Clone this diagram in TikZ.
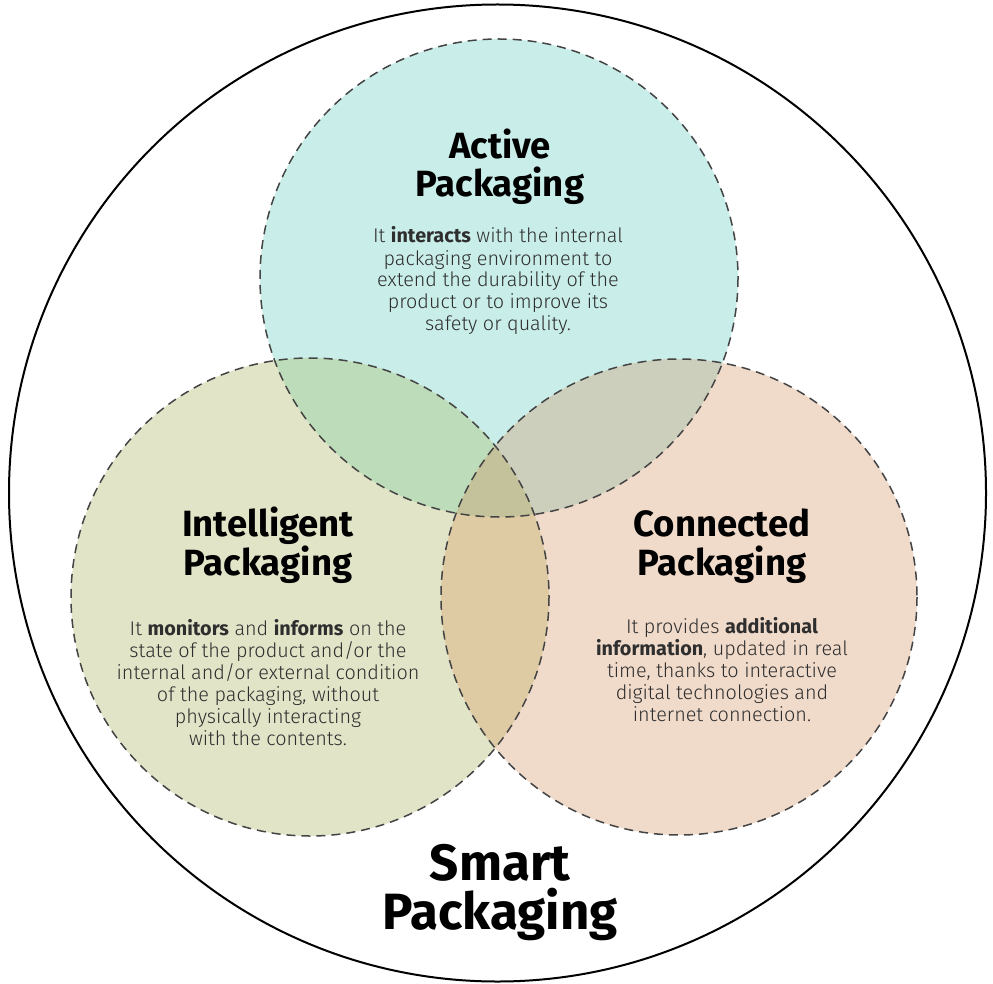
\documentclass[tikz,border=0pt]{standalone}
\usepackage{fontspec}
\setmainfont{Fira Sans}
\IfFontExistsTF{Fira Sans Book}{%
  \IfFontExistsTF{Fira Sans Medium}{%
    \newfontfamily\bodyfont{Fira Sans Book}[BoldFont={Fira Sans Medium}]}{%
    \newfontfamily\bodyfont{Fira Sans Book}[BoldFont={Fira Sans Bold}]}}{%
  \IfFontExistsTF{Fira Sans Light}{%
    \newfontfamily\bodyfont{Fira Sans Light}[BoldFont={Fira Sans Bold}]}{%
    \newfontfamily\bodyfont{Fira Sans}}}
\definecolor{colA}{HTML}{C9EEE9}
\definecolor{colI}{HTML}{E2E4C8}
\definecolor{colC}{HTML}{F0DACA}
\definecolor{colAI}{HTML}{BDDCB9}
\definecolor{colAC}{HTML}{CDCFBD}
\definecolor{colIC}{HTML}{DECBA4}
\definecolor{colAIC}{HTML}{C4C29A}
\definecolor{dashcol}{HTML}{444444}
\definecolor{bodycol}{HTML}{2E2E2E}
\begin{document}
\begin{tikzpicture}[x=1pt,y=-1pt,
  ring/.style={draw=dashcol,line width=1.5pt,dash pattern=on 9pt off 6pt},
  titletext/.style={align=center,font=\fontsize{36.5}{38.5}\selectfont\bfseries,text=black,inner sep=0pt},
  bodytext/.style={align=center,font=\bodyfont\fontsize{19.8}{22}\selectfont,text=bodycol,inner sep=0pt},
  smarttext/.style={align=center,font=\fontsize{51}{49}\selectfont\bfseries,text=black,inner sep=0pt}]
\useasboundingbox (0,0) rectangle (993,984);
\fill[white] (0,0) rectangle (993,984);
% base fills
\fill[colA] (499,278) circle (239);
\fill[colI] (310,597) circle (239);
\fill[colC] (679,597) circle (238);
% pairwise overlaps
\begin{scope}
  \clip (499,278) circle (239);
  \fill[colAI] (310,597) circle (239);
  \fill[colAC] (679,597) circle (238);
\end{scope}
\begin{scope}
  \clip (310,597) circle (239);
  \fill[colIC] (679,597) circle (238);
\end{scope}
\begin{scope}
  \clip (499,278) circle (239);
  \clip (310,597) circle (239);
  \fill[colAIC] (679,597) circle (238);
\end{scope}
% outlines
\draw[ring] (499,278) circle (239);
\draw[ring] (310,597) circle (239);
\draw[ring] (679,597) circle (238);
\draw[black,line width=2pt] (497.5,493) circle (488.5);
% texts
\node[titletext] (acttitle) at (500,167) {Active\\Packaging};
\node[bodytext] (actbody) at (498,281) {It \textbf{interacts} with the internal\\packaging environment to\\extend the durability of the\\product or to improve its\\safety or quality.};
\node[titletext] (inttitle) at (268,545) {Intelligent\\Packaging};
\node[bodytext] (intbody) at (268,683) {It \textbf{monitors} and \textbf{informs} on the\\state of the product and/or the\\internal and/or external condition\\of the packaging, without\\physically interacting\\with the contents.};
\node[titletext] (contitle) at (722,546) {Connected\\Packaging};
\node[bodytext] (conbody) at (722,670) {It provides \textbf{additional}\\\textbf{information}, updated in real\\time, thanks to interactive\\digital technologies and\\internet connection.};
\node[smarttext] (smart) at (500,893) {Smart\\Packaging};
\end{tikzpicture}
\end{document}
